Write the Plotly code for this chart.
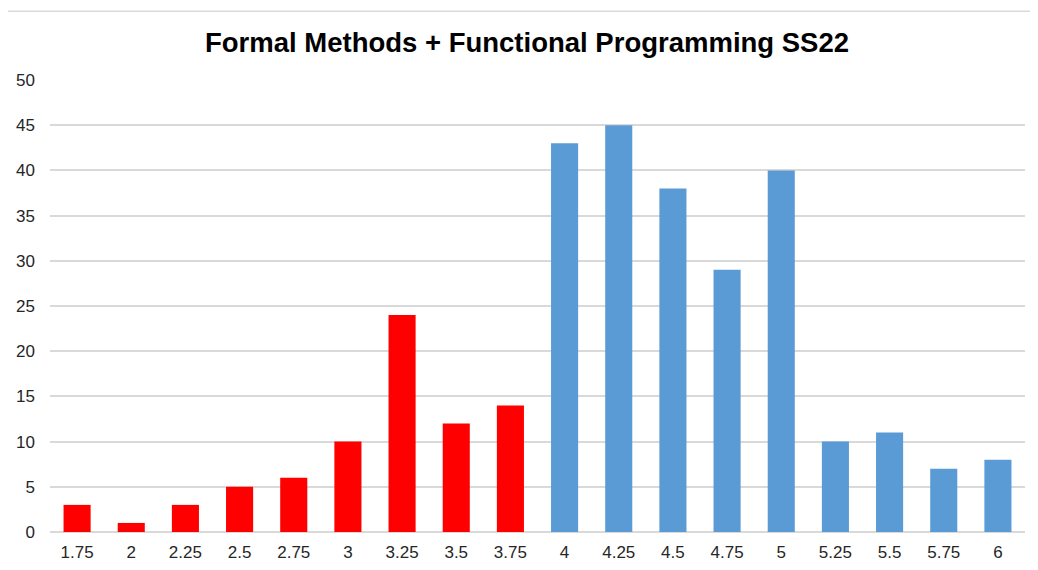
import plotly.graph_objects as go

grades = ["1.75", "2", "2.25", "2.5", "2.75", "3", "3.25", "3.5", "3.75",
          "4", "4.25", "4.5", "4.75", "5", "5.25", "5.5", "5.75", "6"]
counts = [3, 1, 3, 5, 6, 10, 24, 12, 14, 43, 45, 38, 29, 40, 10, 11, 7, 8]
fail_color = "#FF0000"
pass_color = "#5B9BD5"

colors = [fail_color if float(g) < 4 else pass_color for g in grades]

fig = go.Figure(go.Bar(
    x=grades, y=counts, marker=dict(color=colors, line=dict(width=0)),
    width=0.5, showlegend=False,
))

fig.update_layout(
    width=1038, height=570,
    paper_bgcolor="white", plot_bgcolor="white",
    margin=dict(l=42, r=21, t=72, b=46),
    title=dict(text="<b>Formal Methods + Functional Programming SS22</b>",
               x=0.5, xanchor="center", y=0.94, yanchor="middle",
               font=dict(family="Liberation Sans, Arial", size=27.5, color="#000000")),
    font=dict(family="Liberation Sans, Arial", size=17, color="#404040"),
    xaxis=dict(type="category", showgrid=False, showline=False, ticks="",
               ticklabelstandoff=8, automargin=False,
               tickfont=dict(size=17, color="#262626")),
    yaxis=dict(range=[0, 50], dtick=5, showgrid=True, gridcolor="#D9D9D9",
               gridwidth=1.5, zeroline=True, zerolinecolor="#D9D9D9", zerolinewidth=1.5,
               showline=False, ticks="", ticklabelstandoff=14, automargin=False,
               tickfont=dict(size=17, color="#262626")),
    bargap=0.5,
)
fig.add_shape(type="line", xref="paper", yref="paper", x0=-0.048, x1=1.013, y0=1.152, y1=1.152,
              line=dict(color="#D9D9D9", width=1.5))

fig.write_html("out.html")
